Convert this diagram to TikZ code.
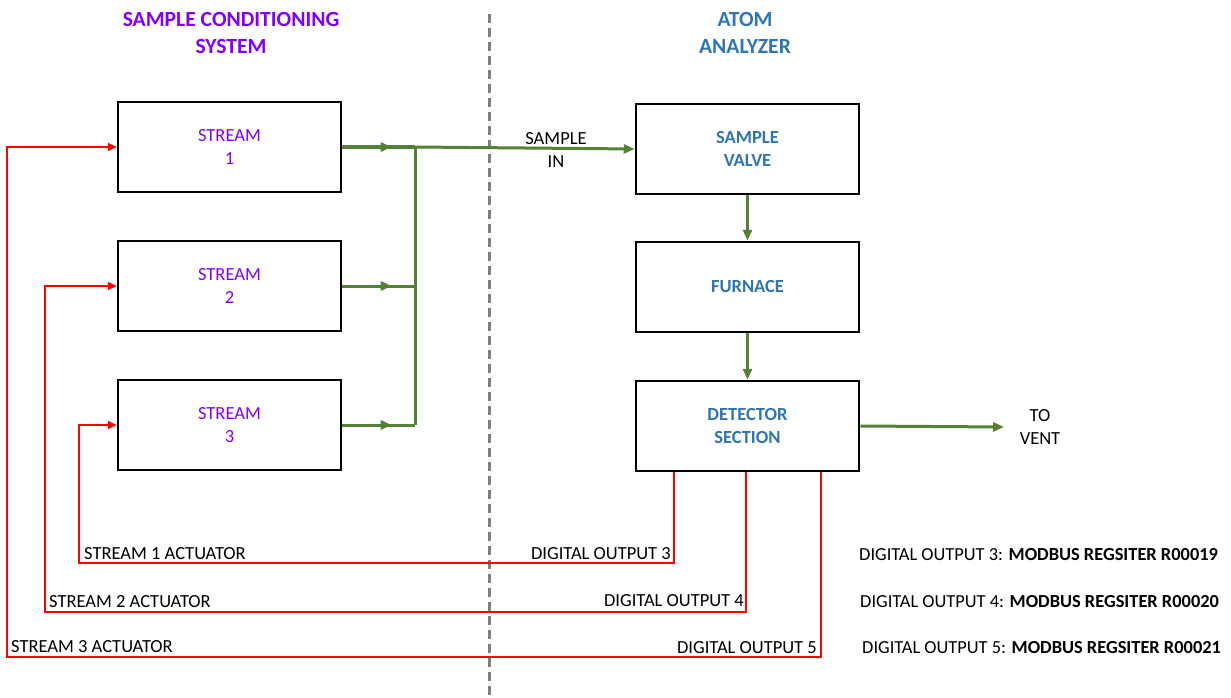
\documentclass[tikz,border=0pt]{standalone}
\usepackage{fontspec}
\setmainfont{Carlito}
\usetikzlibrary{arrows.meta,decorations.markings}
\definecolor{purp}{HTML}{7F00FF}
\definecolor{ablue}{HTML}{2E75B6}
\definecolor{grn}{HTML}{548235}
\definecolor{rd}{HTML}{FF0000}
\definecolor{dgray}{HTML}{7F7F7F}
\begin{document}
\begin{tikzpicture}[x=1pt,y=-1pt,
  font=\fontsize{18.5}{23}\selectfont,
  box/.style={draw=black, line width=2.5pt, minimum width=223pt, minimum height=90pt, align=center, inner sep=0pt},
  sbox/.style={box, text=purp},
  abox/.style={box, text=ablue, font=\fontsize{18.5}{23}\selectfont\bfseries},
  title/.style={align=center, font=\fontsize{21.6}{27}\selectfont\bfseries},
  flow/.style={color=grn, line width=3pt},
  sig/.style={color=rd, line width=2pt},
  gtip/.style={-{Triangle[length=11pt,width=9pt]}},
  rtip/.style={-{Triangle[length=9pt,width=8pt]}},
  midarrow/.style={postaction={decorate}, decoration={markings, mark=at position #1 with {\arrow{Triangle[length=11pt,width=9pt]}}}},
  lbl/.style={inner sep=0pt, text=black},
  leg/.style={lbl, anchor=base west, font=\fontsize{18.4}{22}\selectfont},
]
\useasboundingbox (0,0) rectangle (1231,698);

% titles
\node[title, text=purp] (t1) at (231,33) {SAMPLE CONDITIONING\\SYSTEM};
\node[title, text=ablue] (t2) at (745,33) {ATOM\\ANALYZER};

% divider
\coordinate (dtop) at (489,14);
\coordinate (dbot) at (489,698);
\draw[dgray, line width=3pt, dash pattern=on 9pt off 5pt] (dtop) -- (dbot);

% boxes
\node[sbox] (s1) at (229.5,147) {STREAM\\1};
\node[sbox] (s2) at (229.5,286) {STREAM\\2};
\node[sbox] (s3) at (229.5,425) {STREAM\\3};
\node[abox] (sv) at (747.5,149) {SAMPLE\\VALVE};
\node[abox] (fu) at (747.5,287) {FURNACE};
\node[abox] (dt) at (747.5,426) {DETECTOR\\SECTION};

% green flows
\coordinate (jx) at (415,0);
\draw[flow, midarrow=0.68] (s1.east) -- (s1.east -| jx);
\draw[flow, midarrow=0.68] (s2.east) -- (s2.east -| jx);
\draw[flow, midarrow=0.68] (s3.east) -- (s3.east -| jx);
\draw[flow] (s1.east -| jx) -- (s3.east -| jx);
\draw[flow, gtip] (s1.east -| jx) -- (sv.west);
\draw[flow, gtip] (sv.south) -- (fu.north);
\draw[flow, gtip] (fu.south) -- (dt.north);
\coordinate (vent) at (1004,427);
\draw[flow, gtip] (dt.east) -- (vent);

\node[lbl, align=center] (sin) at (556,150) {SAMPLE\\IN};
\node[lbl, align=center] (tv) at (1040,427) {TO\\VENT};

% red signal lines
\coordinate (c3r) at (674,563);
\coordinate (c3l) at (79,563);
\coordinate (c4r) at (746,612);
\coordinate (c4l) at (45,612);
\coordinate (c5r) at (821,657);
\coordinate (c5l) at (7,657);
\draw[sig, rtip, line join=miter] (dt.south -| c3r) -- (c3r) -- (c3l) |- (s3.west);
\draw[sig, rtip, line join=miter] (dt.south -| c4r) -- (c4r) -- (c4l) |- (s2.west);
\draw[sig, rtip, line join=miter] (dt.south -| c5r) -- (c5r) -- (c5l) |- (s1.west);

% signal labels
\node[lbl, anchor=base west] (a1) at (84,559) {STREAM 1 ACTUATOR};
\node[lbl, anchor=base east] (o3) at (671,559) {DIGITAL OUTPUT 3};
\node[lbl, anchor=base west] (a2) at (49,607) {STREAM 2 ACTUATOR};
\node[lbl, anchor=base east] (o4) at (744,606) {DIGITAL OUTPUT 4};
\node[lbl, anchor=base west] (a3) at (11,652) {STREAM 3 ACTUATOR};
\node[lbl, anchor=base east] (o5) at (817,653) {DIGITAL OUTPUT 5};

% register legend
\node[leg] (r3) at (859,560) {DIGITAL OUTPUT 3: \textbf{MODBUS REGSITER R00019}};
\node[leg] (r4) at (860,607) {DIGITAL OUTPUT 4: \textbf{MODBUS REGSITER R00020}};
\node[leg] (r5) at (862,653) {DIGITAL OUTPUT 5: \textbf{MODBUS REGSITER R00021}};
\end{tikzpicture}
\end{document}
